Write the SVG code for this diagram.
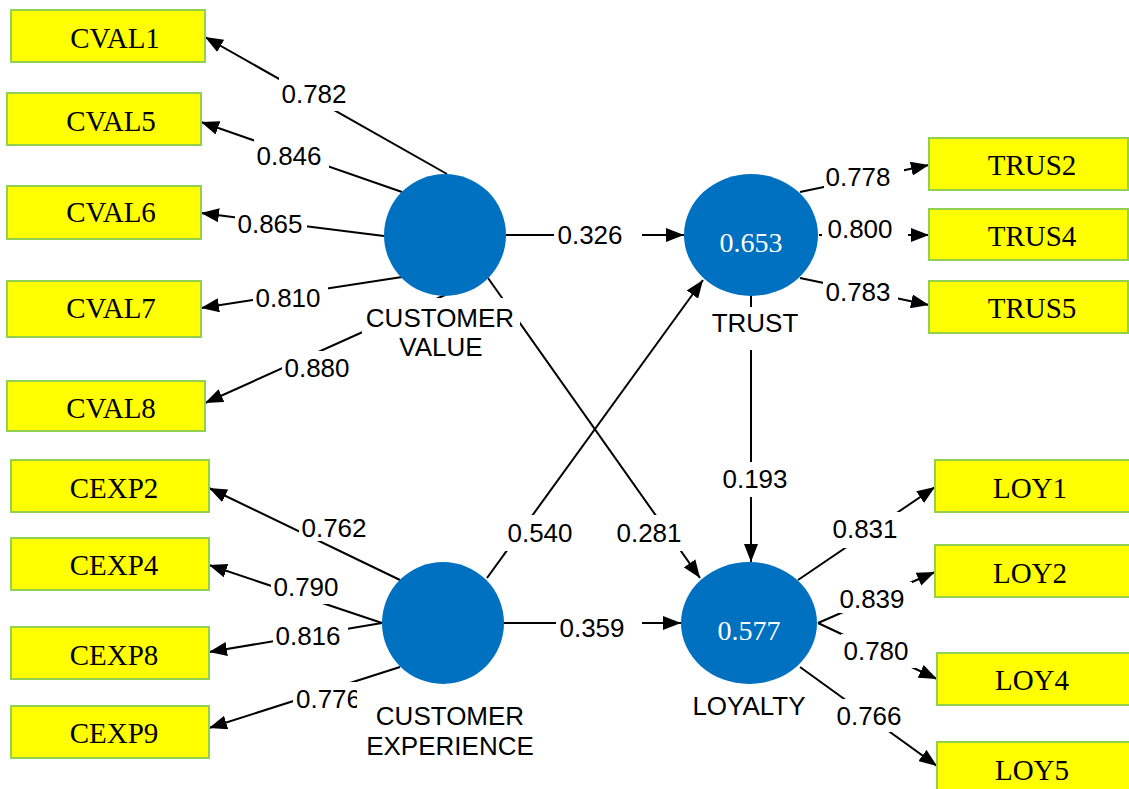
<svg xmlns="http://www.w3.org/2000/svg" width="1129" height="789" viewBox="0 0 1129 789">
  <style>
    .ind { fill: #FFFF00; stroke: #92D050; stroke-width: 2; }
    .ind-t { font-family: "Liberation Serif", "Times New Roman", serif; font-size: 29px; fill: #000; text-anchor: middle; }
    .lv { fill: #0070C0; }
    .lv-v { font-family: "Liberation Serif", "Times New Roman", serif; font-size: 28px; fill: #fff; text-anchor: middle; }
    .lv-t { font-family: "Liberation Sans", Arial, sans-serif; font-size: 26px; fill: #000; text-anchor: middle; }
    .edge { stroke: #000; stroke-width: 2; fill: none; marker-end: url(#arrow); }
    .bg { fill: #fff; }
    .w { font-family: "Liberation Sans", Arial, sans-serif; font-size: 26px; fill: #000; text-anchor: middle; }
  </style>
  <defs>
    <marker id="arrow" markerUnits="userSpaceOnUse" markerWidth="18" markerHeight="14" refX="18" refY="7" orient="auto">
      <path d="M0,0 L18,7 L0,14 z" fill="#000"/>
    </marker>
  </defs>
  <rect width="1129" height="789" fill="#fff"/>

  <g id="connectors">
    <!-- outer loadings: CUSTOMER VALUE -->
    <path class="edge" d="M447,174 L205,37"/>
    <path class="edge" d="M402,192 L201,122"/>
    <path class="edge" d="M384,236 L201,213"/>
    <path class="edge" d="M402,277 L201,308"/>
    <path class="edge" d="M445,295 L205,403"/>
    <!-- outer loadings: CUSTOMER EXPERIENCE -->
    <path class="edge" d="M400,580 L209,488"/>
    <path class="edge" d="M382,623 L209,565"/>
    <path class="edge" d="M382,623 L209,652"/>
    <path class="edge" d="M400,667 L209,728"/>
    <!-- structural paths -->
    <path class="edge" d="M506,235 L684,235"/>
    <path class="edge" d="M504,623 L681,623"/>
    <path class="edge" d="M487,578 L703,280"/>
    <path class="edge" d="M488,278 L700,578"/>
    <path class="edge" d="M751,296 L751,562"/>
    <!-- outer loadings: TRUST -->
    <path class="edge" d="M800,192 L929,165"/>
    <path class="edge" d="M819,235 L929,235"/>
    <path class="edge" d="M800,278 L929,305"/>
    <!-- outer loadings: LOYALTY -->
    <path class="edge" d="M798,580 L935,487"/>
    <path class="edge" d="M818,623 L935,572"/>
    <path class="edge" d="M818,623 L937,679"/>
    <path class="edge" d="M800,667 L937,766"/>

    <!-- coefficient labels -->
    <rect class="bg" x="279" y="77" width="75" height="34"/><text class="w" x="314" y="103">0.782</text>
    <rect class="bg" x="254" y="139" width="75" height="34"/><text class="w" x="289" y="165">0.846</text>
    <rect class="bg" x="235" y="207" width="72" height="34"/><text class="w" x="270" y="233">0.865</text>
    <rect class="bg" x="253" y="281" width="75" height="34"/><text class="w" x="288" y="307">0.810</text>
    <rect class="bg" x="282" y="351" width="75" height="34"/><text class="w" x="317" y="377">0.880</text>
    <rect class="bg" x="299" y="511" width="75" height="30"/><text class="w" x="334" y="537">0.762</text>
    <rect class="bg" x="271" y="570" width="75" height="34"/><text class="w" x="306" y="596">0.790</text>
    <rect class="bg" x="273" y="619" width="75" height="34"/><text class="w" x="308" y="645">0.816</text>
    <rect class="bg" x="293" y="682" width="75" height="34"/><text class="w" x="328.5" y="708">0.776</text>
    <rect class="bg" x="554" y="218" width="88" height="34"/><text class="w" x="590" y="244">0.326</text>
    <rect class="bg" x="556" y="611" width="86" height="34"/><text class="w" x="592" y="637">0.359</text>
    <rect class="bg" x="505" y="515" width="75" height="36"/><text class="w" x="540" y="542">0.540</text>
    <rect class="bg" x="614" y="515" width="68" height="36"/><text class="w" x="649" y="542">0.281</text>
    <rect class="bg" x="720" y="462" width="72" height="35"/><text class="w" x="755" y="488">0.193</text>
    <rect class="bg" x="824" y="160" width="80" height="34"/><text class="w" x="858" y="186">0.778</text>
    <rect class="bg" x="822" y="212" width="86" height="34"/><text class="w" x="860" y="238">0.800</text>
    <rect class="bg" x="823" y="275" width="75" height="34"/><text class="w" x="858" y="301">0.783</text>
    <rect class="bg" x="830" y="512" width="74" height="36"/><text class="w" x="865" y="538">0.831</text>
    <rect class="bg" x="838" y="582" width="74" height="31"/><text class="w" x="872" y="608">0.839</text>
    <rect class="bg" x="841" y="634" width="75" height="34"/><text class="w" x="876" y="660">0.780</text>
    <rect class="bg" x="834" y="699" width="75" height="33"/><text class="w" x="869" y="725">0.766</text>
  </g>

  <!-- latent variables -->
  <g id="customer-value">
    <circle class="lv" cx="445" cy="235" r="61"/>
    <rect class="bg" x="362" y="298" width="158" height="64"/>
    <text class="lv-t" x="440" y="327">CUSTOMER</text>
    <text class="lv-t" x="441" y="356">VALUE</text>
  </g>
  <g id="customer-experience">
    <circle class="lv" cx="443" cy="623" r="61"/>
    <rect class="bg" x="357" y="686" width="185" height="78"/>
    <text class="lv-t" x="450" y="725">CUSTOMER</text>
    <text class="lv-t" x="450" y="755">EXPERIENCE</text>
  </g>
  <g id="trust">
    <ellipse class="lv" cx="751" cy="235" rx="67" ry="61"/>
    <text class="lv-v" x="751" y="252">0.653</text>
    <rect class="bg" x="706" y="307" width="99" height="43"/>
    <text class="lv-t" x="755" y="332">TRUST</text>
  </g>
  <g id="loyalty">
    <ellipse class="lv" cx="749" cy="623" rx="68" ry="61"/>
    <text class="lv-v" x="749" y="640">0.577</text>
    <text class="lv-t" x="749" y="715">LOYALTY</text>
  </g>

  <!-- indicators -->
  <g id="cval1"><rect class="ind" x="11" y="10" width="194" height="52"/><text class="ind-t" x="115" y="48">CVAL1</text></g>
  <g id="cval5"><rect class="ind" x="7" y="93" width="194" height="52"/><text class="ind-t" x="111" y="131">CVAL5</text></g>
  <g id="cval6"><rect class="ind" x="7" y="186" width="194" height="53"/><text class="ind-t" x="111" y="222">CVAL6</text></g>
  <g id="cval7"><rect class="ind" x="7" y="281" width="194" height="56"/><text class="ind-t" x="111" y="318">CVAL7</text></g>
  <g id="cval8"><rect class="ind" x="7" y="381" width="198" height="50"/><text class="ind-t" x="111" y="418">CVAL8</text></g>
  <g id="cexp2"><rect class="ind" x="11" y="460" width="198" height="52"/><text class="ind-t" x="114" y="498">CEXP2</text></g>
  <g id="cexp4"><rect class="ind" x="11" y="538" width="198" height="52"/><text class="ind-t" x="114" y="575">CEXP4</text></g>
  <g id="cexp8"><rect class="ind" x="11" y="627" width="198" height="52"/><text class="ind-t" x="114" y="665">CEXP8</text></g>
  <g id="cexp9"><rect class="ind" x="11" y="706" width="198" height="52"/><text class="ind-t" x="114" y="743">CEXP9</text></g>
  <g id="trus2"><rect class="ind" x="929" y="138" width="199" height="52"/><text class="ind-t" x="1032" y="175">TRUS2</text></g>
  <g id="trus4"><rect class="ind" x="929" y="209" width="199" height="51"/><text class="ind-t" x="1032" y="246">TRUS4</text></g>
  <g id="trus5"><rect class="ind" x="929" y="281" width="199" height="52"/><text class="ind-t" x="1032" y="318">TRUS5</text></g>
  <g id="loy1"><rect class="ind" x="935" y="460" width="200" height="52"/><text class="ind-t" x="1030" y="498">LOY1</text></g>
  <g id="loy2"><rect class="ind" x="935" y="545" width="200" height="52"/><text class="ind-t" x="1030" y="583">LOY2</text></g>
  <g id="loy4"><rect class="ind" x="937" y="653" width="200" height="52"/><text class="ind-t" x="1032" y="690">LOY4</text></g>
  <g id="loy5"><rect class="ind" x="937" y="742" width="200" height="52"/><text class="ind-t" x="1032" y="780">LOY5</text></g>
</svg>
